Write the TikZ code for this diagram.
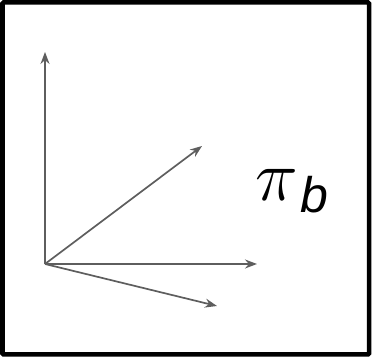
\documentclass[tikz,border=0pt]{standalone}
\usepackage{fontspec}
\setmainfont{Liberation Sans}
\usepackage{xcolor}
\usetikzlibrary{arrows.meta}

\definecolor{axisgray}{HTML}{5E5E5E}

\begin{document}
\begin{tikzpicture}[
  x=1pt, y=1pt,
  vec/.style={-{Stealth[length=12pt,width=9pt]}, line width=1.7pt, draw=axisgray},
  frame/.style={draw=black, line width=4.5pt, rounded corners=1pt},
  lbl/.style={font=\fontsize{50}{50}\selectfont, inner sep=0pt}
]
  \useasboundingbox (0,0) rectangle (372,358);
  % outer frame
  \draw[frame] (2.5,3.5) rectangle (369,355.5);

  % vectors from the origin
  \coordinate (o) at (45,94);
  \coordinate (up) at (45,306);
  \coordinate (right) at (257,94);
  \coordinate (diagup) at (202,212);
  \coordinate (diagdown) at (217,52);

  \draw[vec] (o) -- (up);
  \draw[vec] (o) -- (right);
  \draw[vec] (o) -- (diagup);
  \draw[vec] (o) -- (diagdown);

  % label
  \node[lbl, anchor=base west] (pib) at (255,157) {\scalebox{2.9}{$\pi$}\raisebox{-12pt}{\kern3pt\textit{b}}};
\end{tikzpicture}
\end{document}
